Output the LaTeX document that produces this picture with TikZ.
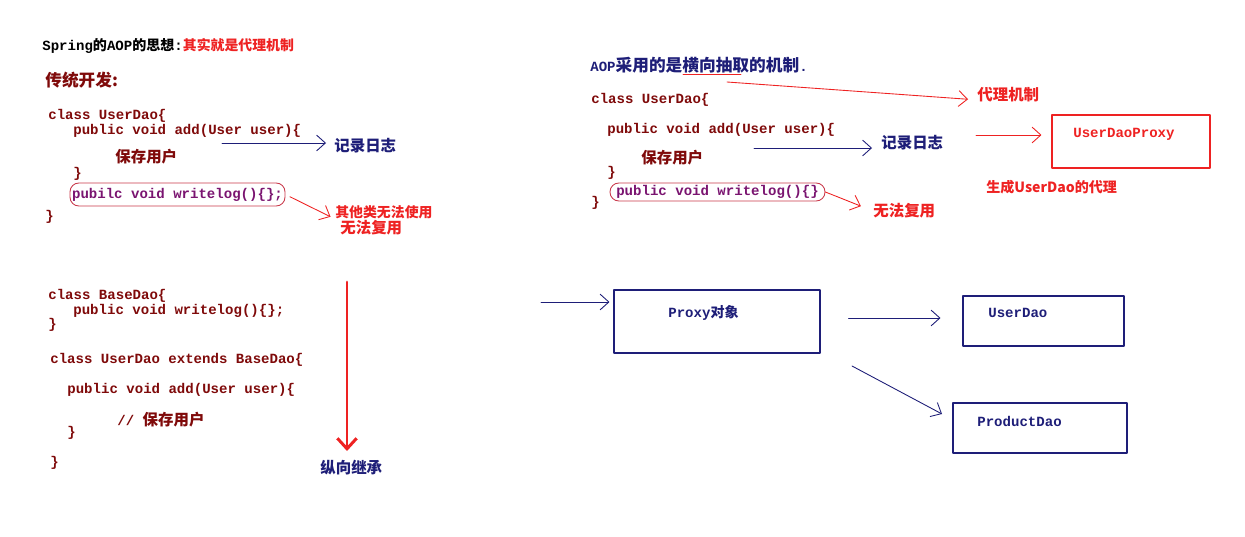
\documentclass[tikz,border=0pt]{standalone}
\usepackage{fontspec}
\setmainfont{Liberation Mono}
\newfontfamily\zhfont{Noto Sans CJK SC}
\usetikzlibrary{arrows.meta,positioning}
\definecolor{codered}{HTML}{7F0A0A}
\definecolor{navy}{HTML}{1E1E78}
\definecolor{hotred}{HTML}{EE2222}
\definecolor{logpurple}{HTML}{7A1470}
\definecolor{boxred}{HTML}{C8384A}
\newcommand{\zh}[1]{{\zhfont #1}}
\tikzset{
  code/.style={anchor=west,inner sep=0pt,text=codered,font=\bfseries\fontsize{8}{9}\selectfont},
  zhcode/.style={anchor=west,inner sep=0pt,text=codered,font=\zhfont\bfseries\fontsize{8.8}{10}\selectfont},
  rednote/.style={anchor=west,inner sep=0pt,text=hotred,font=\zhfont\bfseries\fontsize{8.8}{10}\selectfont},
  bluenote/.style={anchor=west,inner sep=0pt,text=navy,font=\zhfont\bfseries\fontsize{8.8}{10}\selectfont},
  logbox/.style={draw=boxred,line width=0.5pt,rounded corners=5pt,inner sep=0pt,text=logpurple,font=\bfseries\fontsize{8}{9}\selectfont},
  navybox/.style={draw=navy,line width=0.6pt,inner sep=0pt},
  boxtext/.style={anchor=west,inner sep=0pt,font=\bfseries\fontsize{8}{9}\selectfont},
  redarrow/.style={draw=hotred,line width=0.5pt,-{Straight Barb[length=5pt,width=9pt]}},
  bluearrow/.style={draw=navy,line width=0.5pt,-{Straight Barb[length=5pt,width=9pt]}}
}
\begin{document}
\begin{tikzpicture}[x=0.02cm,y=-0.02cm,line cap=round,line join=round]
  \useasboundingbox (0,0) rectangle (1245,537);
  % left: traditional way
  \node[code,text=black] (title) at (42,46) {Spring\zh{的}AOP\zh{的思想}:{\zhfont\fontsize{7.9}{9}\selectfont\color{hotred}其实就是代理机制}};
  \node[zhcode,font=\zhfont\bfseries\fontsize{9.5}{11}\selectfont] (trad) at (45,80) {传统开发:};
  \node[code] (c1) at (48,116) {class UserDao\{};
  \node[code] (c2) at (73,131) {public void add(User user)\{};
  \node[zhcode] (c3) at (115,157) {保存用户};
  \node[code] (c4) at (73,174) {\}};
  \node[logbox,minimum width=4.3cm,minimum height=0.46cm] (log1) at (177.5,194.5) {pubilc void writelog()\{\};};
  \node[code] (c5) at (45,217) {\}};
  \coordinate (logA) at (222,143);
  \node[bluenote] (jilu1) at (334,146) {记录日志};
  \draw[bluearrow,shorten >=0.16cm] (logA) -- (logA -| jilu1.west);
  \node[rednote,font=\zhfont\bfseries\fontsize{7.9}{9}\selectfont] (qita) at (335,212) {其他类无法使用};
  \node[rednote] (wufa1) at (340,228) {无法复用};
  \draw[redarrow,shorten <=0.1cm,shorten >=0.1cm] (log1.east) -- (qita.south west);
  % left: inheritance
  \node[code] (b1) at (48,296) {class BaseDao\{};
  \node[code] (b2) at (73,311) {public void writelog()\{\};};
  \node[code] (b3) at (48,325) {\}};
  \node[code] (b4) at (50,360) {class UserDao extends BaseDao\{};
  \node[code] (b5) at (67,390) {public void add(User user)\{};
  \node[code] (b6) at (117,420) {// {\zhfont\fontsize{8.8}{10}\selectfont 保存用户}};
  \node[code] (b7) at (67,433) {\}};
  \node[code] (b8) at (50,463) {\}};
  \coordinate (vTop) at (347,282);
  \coordinate (vEnd) at (347,451);
  \draw[hotred,line width=1.7pt,-{Straight Barb[length=6pt,width=11pt]}] (vTop) -- (vEnd);
  \node[bluenote] (zong) at (320,468) {纵向继承};
  % right: aop
  \node[code,text=navy] (aop) at (590,65) {AOP{\zhfont\fontsize{9.5}{11}\selectfont 采用的是横向抽取的机制}.};
  \draw[hotred,line width=0.5pt] (683,74) -- (741,74);
  \coordinate (hx) at (727,82);
  \node[rednote] (daili) at (977,95) {代理机制};
  \draw[redarrow,shorten >=0.18cm] (hx) -- ([yshift=-2.8pt]daili.west);
  \node[code] (r1) at (591,100) {class UserDao\{};
  \node[code] (r2) at (607,130) {public void add(User user)\{};
  \node[zhcode] (r3) at (641,158) {保存用户};
  \node[code] (r4) at (607,173) {\}};
  \node[logbox,minimum width=4.3cm,minimum height=0.36cm] (log2) at (717.5,192) {public void writelog()\{\}};
  \node[code] (r5) at (591,203) {\}};
  \coordinate (logB) at (754,148);
  \node[bluenote] (jilu2) at (881,143) {记录日志};
  \draw[bluearrow,shorten >=0.18cm] (logB) -- (logB -| jilu2.west);
  \node[rednote] (wufa2) at (873,211) {无法复用};
  \draw[redarrow,shorten >=0.26cm] (log2.east) -- (wufa2.west);
  \coordinate (pa) at (976,135);
  \node[draw=hotred,line width=0.6pt,minimum width=3.16cm,minimum height=1.06cm] (udproxy) at (1131,141.5) {};
  \node[boxtext,text=hotred] (udproxyText) at (1073,134) {UserDaoProxy};
  \draw[redarrow,shorten >=0.2cm] (pa) -- (pa -| udproxy.west);
  \node[rednote,font=\zhfont\bfseries\fontsize{8}{9}\selectfont] (gen) at (986,187) {生成UserDao的代理};
  % right: proxy object
  \node[navybox,minimum width=4.12cm,minimum height=1.26cm] (proxy) at (717,321.5) {};
  \node[boxtext,text=navy] (proxyText) at (668,313) {Proxy{\zhfont 对象}};
  \node[navybox,minimum width=3.22cm,minimum height=1cm] (userdao) at (1043.5,321) {};
  \node[boxtext,text=navy] (userdaoText) at (988,313) {UserDao};
  \node[navybox,minimum width=3.48cm,minimum height=1cm] (productdao) at (1040,428) {};
  \node[boxtext,text=navy] (productdaoText) at (977,421) {ProductDao};
  \coordinate (entry) at (541,302);
  \draw[bluearrow,shorten >=0.08cm] (entry) -- (entry -| proxy.west);
  \draw[bluearrow,shorten <=0.56cm,shorten >=0.44cm] (proxy.east |- 0,318) -- (userdao.west |- 0,318);
  \coordinate (pd1) at (852,366);
  \coordinate (pd2) at (942,414);
  \draw[bluearrow] (pd1) -- (pd2);
\end{tikzpicture}
\end{document}
